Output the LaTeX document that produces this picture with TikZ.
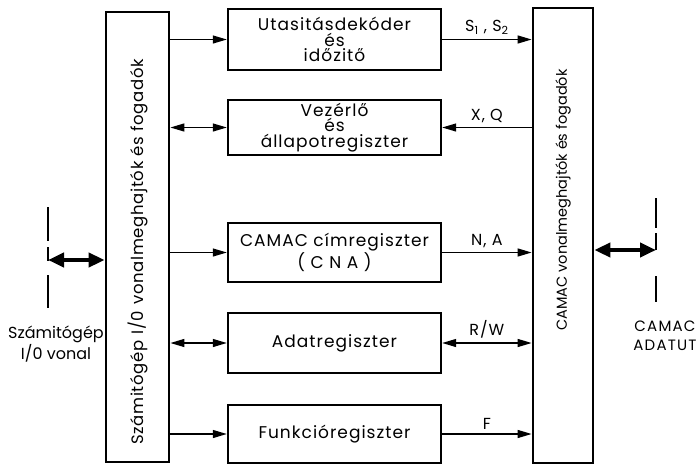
\documentclass[tikz,border=0pt]{standalone}
\usepackage{fontspec}
\setmainfont{Poppins}
\usetikzlibrary{arrows.meta}
\begin{document}
\begin{tikzpicture}[x=1pt,y=-1pt,
  blk/.style={draw,line width=2.4pt,minimum width=213pt,align=center,inner sep=0pt,font=\fontsize{17}{15.5}\selectfont\addfontfeature{LetterSpace=6}},
  tall/.style={draw,line width=2.8pt},
  vtext/.style={rotate=90,font=\fontsize{14.5}{17}\selectfont},
  lbl/.style={font=\fontsize{16}{17}\selectfont\addfontfeature{LetterSpace=6},above=1pt},
  conn/.style={line width=1.3pt,-{Triangle[length=14pt,width=8pt]}},
  dconn/.style={line width=1.3pt,{Triangle[length=14pt,width=8pt]}-{Triangle[length=14pt,width=8pt]}},
  bus/.style={line width=4.5pt,{Triangle[length=16pt,width=14pt]}-{Triangle[length=16pt,width=14pt]}},
  side/.style={font=\fontsize{16}{19}\selectfont,align=center}
]
\useasboundingbox (0,0) rectangle (697,466);
% tall boxes
\node[tall,minimum width=63pt,minimum height=450pt] (L) at (137.5,237) {};
\node[tall,minimum width=60pt,minimum height=455pt] (R) at (563,235.5) {};
\node[vtext,font=\fontsize{16.5}{17}\selectfont\addfontfeature{LetterSpace=4}] (Lt) at (138,252) {Számitógép\hspace{6pt}I/0\hspace{6pt}vonalmeghajtók és fogadók};
\node[vtext] (Rt) at (563,200) {CAMAC vonalmeghajtók és fogadók};
% center blocks
\node[blk,minimum height=61pt] (u) at (334.5,39.5) {Utasitásdekóder\\és\\időzitő};
\node[blk,minimum height=55pt] (v) at (334.5,127.5) {Vezérlő\\és\\állapotregiszter};
\node[blk,minimum height=59pt,font=\fontsize{17}{20}\selectfont\addfontfeature{LetterSpace=6}] (c) at (334.5,252.5) {CAMAC címregiszter\\( C N A )};
\node[blk,minimum height=60pt] (a) at (334.5,343) {Adatregiszter};
\node[blk,minimum height=58pt] (f) at (334.5,434) {Funkcióregiszter};
% connectors
\draw[conn] (L.east |- u.west) -- (u.west);
\draw[conn] (u.east) -- node[lbl] {S\textsubscript{1} , S\textsubscript{2}} (R.west |- u.east);
\draw[dconn] (L.east |- v.west) -- (v.west);
\draw[conn] (R.west |- v.east) -- node[lbl] {X, Q} (v.east);
\draw[conn] (L.east |- c.west) -- (c.west);
\draw[conn] (c.east) -- node[lbl] {N, A} (R.west |- c.east);
\draw[dconn] (L.east |- a.west) -- (a.west);
\draw[dconn] (a.east) -- node[lbl] {R/W} (R.west |- a.east);
\draw[conn] (L.east |- f.west) -- (f.west);
\draw[conn] (f.east) -- node[lbl] {F} (R.west |- f.east);
% left bus
\coordinate (ld1) at (48,207);
\coordinate (ld2) at (48,308);
\coordinate (lb) at (48,260);
\draw[line width=1.2pt,dash pattern=on 34pt off 6pt on 14pt off 14pt] (ld1) -- (ld2);
\draw[bus] (lb) -- (L.west |- lb);
\node[side] (ls) at (56,344) {Számitógép\\I/0 vonal};
% right bus
\coordinate (rd1) at (656,198);
\coordinate (rd2) at (656,302);
\coordinate (rb) at (656,250);
\draw[line width=1.2pt,dash pattern=on 30pt off 5pt on 17pt off 26pt] (rd1) -- (rd2);
\draw[bus] (R.east |- rb) -- (rb);
\node[side,font=\fontsize{15}{19}\selectfont\addfontfeature{LetterSpace=8}] (rs) at (665,336) {CAMAC\\ADATUT};
\end{tikzpicture}
\end{document}
